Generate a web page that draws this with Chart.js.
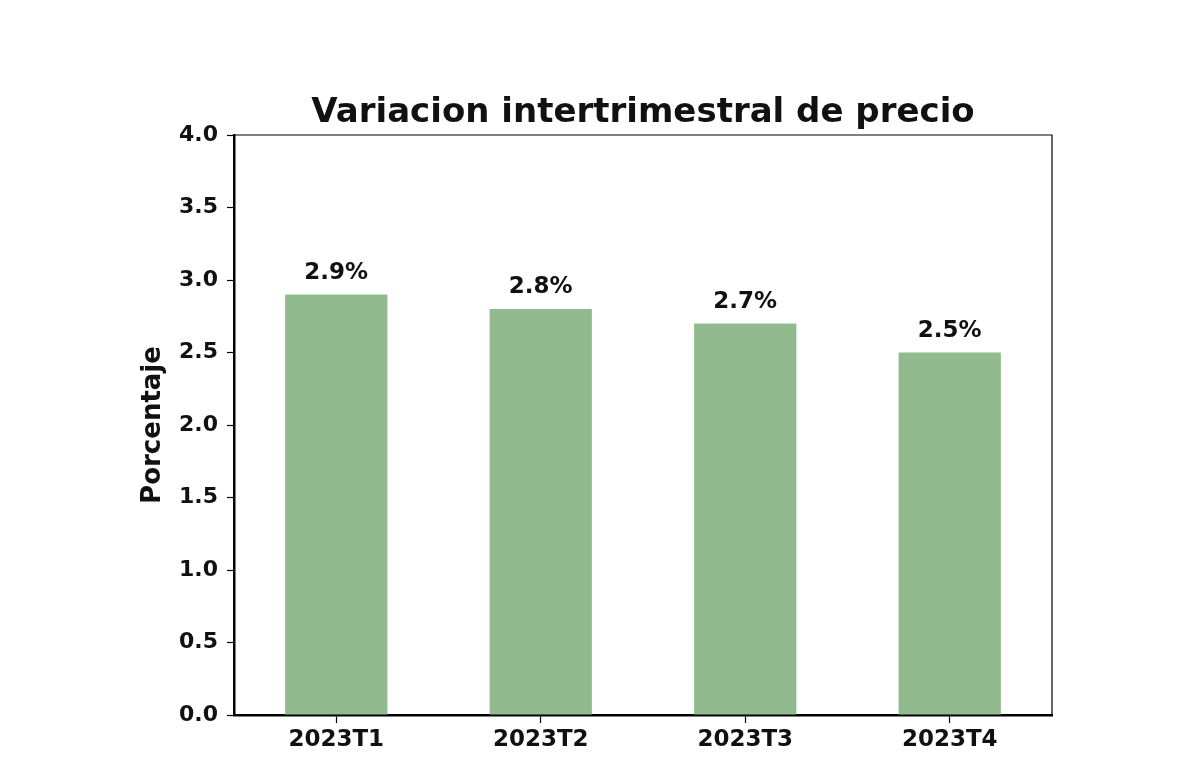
<!DOCTYPE html>
<html>
<head>
<meta charset="utf-8">
<script src="https://cdn.jsdelivr.net/npm/chart.js@4.4.1/dist/chart.umd.min.js"></script>
<style>
  html, body { margin: 0; padding: 0; background: #fff; }
  #wrap { width: 1200px; height: 776px; }
</style>
</head>
<body>
<div id="wrap"><canvas id="chart" width="1200" height="776"></canvas></div>
<script>
const categories = ['2023T1', '2023T2', '2023T3', '2023T4'];
const values = [2.9, 2.8, 2.7, 2.5];
const yTicks = [0, 0.5, 1, 1.5, 2, 2.5, 3, 3.5, 4];
const chartTitle = 'Variacion intertrimestral de precio';
const yTitle = 'Porcentaje';

const FONT = "'DejaVu Sans', sans-serif";
const barColor = '#91bb8f';

// thin top/right frame + title centred over the plot, matplotlib style
const frame = {
  id: 'frame',
  afterDraw(chart) {
    const { ctx, chartArea: a } = chart;
    ctx.save();
    ctx.strokeStyle = '#000';
    ctx.lineWidth = 1.2;
    ctx.beginPath();
    ctx.moveTo(a.left, a.top);
    ctx.lineTo(a.right, a.top);
    ctx.lineTo(a.right, a.bottom);
    ctx.stroke();

    ctx.fillStyle = '#111';
    ctx.font = `bold 34px ${FONT}`;
    ctx.textAlign = 'center';
    ctx.textBaseline = 'alphabetic';
    ctx.fillText(chartTitle, (a.left + a.right) / 2, a.top - 13);
    ctx.restore();
  }
};

const barLabels = {
  id: 'barLabels',
  afterDatasetsDraw(chart) {
    const { ctx } = chart;
    const meta = chart.getDatasetMeta(0);
    ctx.save();
    ctx.fillStyle = '#111';
    ctx.font = `bold 23px ${FONT}`;
    ctx.textAlign = 'center';
    ctx.textBaseline = 'alphabetic';
    meta.data.forEach((bar, i) => {
      ctx.fillText(`${values[i].toFixed(1)}%`, bar.x, bar.y - 16);
    });
    ctx.restore();
  }
};

new Chart(document.getElementById('chart'), {
  type: 'bar',
  data: {
    labels: categories,
    datasets: [{
      data: values,
      backgroundColor: barColor,
      borderWidth: 0,
      barPercentage: 0.5,
      categoryPercentage: 1
    }]
  },
  options: {
    responsive: false,
    animation: false,
    layout: { padding: { left: 0, right: 148, top: 135, bottom: 0 } },
    plugins: {
      legend: { display: false },
      tooltip: { enabled: false },
      title: { display: false }
    },
    scales: {
      x: {
        afterFit(scale) { scale.height = 61; },
        grid: { display: true, offset: false, drawOnChartArea: false, tickLength: 8, tickColor: '#000', tickWidth: 1.2 },
        border: { display: true, color: '#000', width: 2.5 },
        ticks: { color: '#111', padding: 3, font: { family: FONT, size: 23, weight: 'bold' } }
      },
      y: {
        min: 0,
        max: 4,
        afterFit(scale) { scale.width = 234; },
        afterBuildTicks(scale) { scale.ticks = yTicks.map(v => ({ value: v })); },
        grid: { display: true, drawOnChartArea: false, tickLength: 7, tickColor: '#000', tickWidth: 1.2 },
        border: { display: true, color: '#000', width: 2.5 },
        ticks: {
          color: '#111',
          padding: 9,
          font: { family: FONT, size: 22, weight: 'bold' },
          callback: v => Number(v).toFixed(1)
        },
        title: {
          display: true,
          text: yTitle,
          color: '#111',
          font: { family: FONT, size: 26, weight: 'bold', lineHeight: 1.2 },
          padding: { top: 138, bottom: 0 }
        }
      }
    }
  },
  plugins: [frame, barLabels]
});
</script>
</body>
</html>
